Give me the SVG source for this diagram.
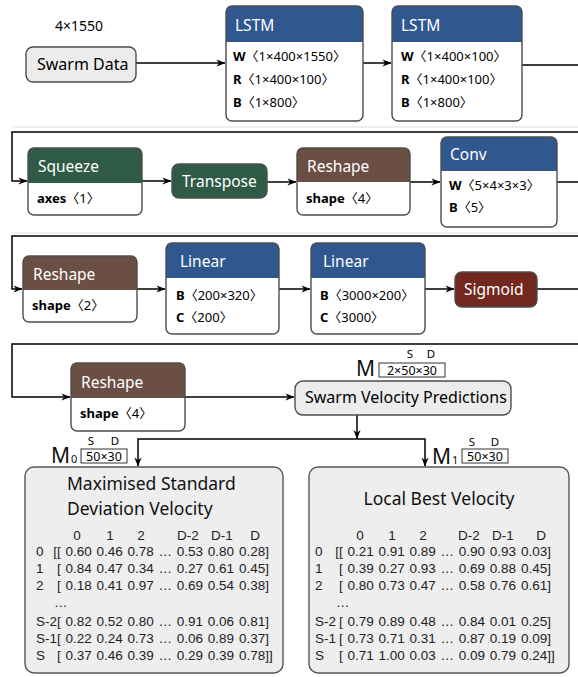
<svg xmlns="http://www.w3.org/2000/svg" width="578" height="677" viewBox="0 0 578 677">
<defs>
<style>
text{font-family:"Noto Sans","Noto Sans CJK SC",sans-serif;fill:#000}
.t{font-size:15.5px;fill:#fff}
.b{font-size:13px}
.b tspan.k{font-weight:bold}
.body{fill:#fff;stroke:none}
.out{fill:none;stroke:#4d4d4d;stroke-width:1.4}
.layer{fill:#30588f}
.xform{fill:#2f5a46}
.shape{fill:#6b4e44}
.act{fill:#72281f}
.io{fill:#ececec;stroke:#4d4d4d;stroke-width:1.4}
.big{fill:#eeeeee;stroke:#555;stroke-width:1.4}
.c{fill:none;stroke:#000;stroke-width:1.5}
.sep{stroke:#dedede;stroke-width:1}
text.m{font-family:"Liberation Sans",Arial,sans-serif;font-size:13.5px;fill:#222;word-spacing:1px}
.h{font-size:17.5px;fill:#111}
.dim{font-size:12.5px}
.sd{font-size:11.5px}
.M{font-size:21px;fill:#111}
.sub{font-size:11px;fill:#111}
.bx{fill:none;stroke:#333;stroke-width:1}
</style>
<marker id="arr" viewBox="0 0 10 10" refX="9.5" refY="5" markerWidth="9" markerHeight="9" markerUnits="userSpaceOnUse" orient="auto">
<path d="M0,1 L10,5 L0,9 L3,5 Z" fill="#000"/>
</marker>
</defs>

<line class="sep" x1="12" y1="127" x2="578" y2="127"/>
<line class="sep" x1="12" y1="233" x2="578" y2="233"/>

<g id="connectors">
<path class="c" d="M136,63 H225" marker-end="url(#arr)"/>
<path class="c" d="M363,63 H391" marker-end="url(#arr)"/>
<path class="c" d="M521,65 H578 M578,132 H12 V181 H27" marker-end="url(#arr)"/>
<path class="c" d="M142,181 H171" marker-end="url(#arr)"/>
<path class="c" d="M267,182 H296" marker-end="url(#arr)"/>
<path class="c" d="M410,182 H440" marker-end="url(#arr)"/>
<path class="c" d="M557,182 H578 M578,236 H12 V289 H22" marker-end="url(#arr)"/>
<path class="c" d="M137,289 H165" marker-end="url(#arr)"/>
<path class="c" d="M279,289 H310" marker-end="url(#arr)"/>
<path class="c" d="M425,289 H454" marker-end="url(#arr)"/>
<path class="c" d="M537,289 H578 M578,344 H12 V397 H70" marker-end="url(#arr)"/>
<path class="c" d="M185,397 H294" marker-end="url(#arr)"/>
<path class="c" d="M357,415 V438.5" marker-end="url(#arr)"/>
<path class="c" d="M357,439 H138 V466" marker-end="url(#arr)"/>
<path class="c" d="M357,439 H425 V466" marker-end="url(#arr)"/>
</g>

<g id="swarm-data">
<text x="55" y="31" style="font-size:14px">4×1550</text>
<rect class="io" x="26" y="47" width="110" height="35" rx="7"/>
<text x="37" y="70" style="font-size:16px">Swarm Data</text>
</g>

<g id="lstm1">
<rect class="body" x="226" y="6" width="137" height="115" rx="6"/>
<path class="layer" d="M226,42 V12 Q226,6 232,6 H357 Q363,6 363,12 V42 Z"/>
<rect class="out" x="226" y="6" width="137" height="115" rx="6"/>
<text class="t" x="235" y="31">LSTM</text>
<text class="b" x="233" y="61"><tspan class="k">W</tspan>〈1×400×1550〉</text>
<text class="b" x="233" y="84"><tspan class="k">R</tspan>〈1×400×100〉</text>
<text class="b" x="233" y="107"><tspan class="k">B</tspan>〈1×800〉</text>
</g>

<g id="lstm2">
<rect class="body" x="392" y="6" width="130" height="115" rx="6"/>
<path class="layer" d="M392,42 V12 Q392,6 398,6 H516 Q522,6 522,12 V42 Z"/>
<rect class="out" x="392" y="6" width="130" height="115" rx="6"/>
<text class="t" x="401" y="31">LSTM</text>
<text class="b" x="401" y="61"><tspan class="k">W</tspan>〈1×400×100〉</text>
<text class="b" x="401" y="84"><tspan class="k">R</tspan>〈1×400×100〉</text>
<text class="b" x="401" y="107"><tspan class="k">B</tspan>〈1×800〉</text>
</g>

<g id="squeeze">
<rect class="body" x="28" y="148" width="114" height="67" rx="6"/>
<path class="xform" d="M28,183 V154 Q28,148 34,148 H136 Q142,148 142,154 V183 Z"/>
<rect class="out" x="28" y="148" width="114" height="67" rx="6"/>
<text class="t" x="38" y="172">Squeeze</text>
<text class="b" x="37" y="203"><tspan class="k">axes</tspan>〈1〉</text>
</g>

<g id="transpose">
<rect class="xform" x="172" y="164" width="95" height="34" rx="7" stroke="#4d4d4d" stroke-width="1.4"/>
<text class="t" x="182" y="187">Transpose</text>
</g>

<g id="reshape1">
<rect class="body" x="297" y="148" width="113" height="67" rx="6"/>
<path class="shape" d="M297,182 V154 Q297,148 303,148 H404 Q410,148 410,154 V182 Z"/>
<rect class="out" x="297" y="148" width="113" height="67" rx="6"/>
<text class="t" x="307" y="172">Reshape</text>
<text class="b" x="306" y="203"><tspan class="k">shape</tspan>〈4〉</text>
</g>

<g id="conv">
<rect class="body" x="441" y="137" width="116" height="90" rx="6"/>
<path class="layer" d="M441,171 V143 Q441,137 447,137 H551 Q557,137 557,143 V171 Z"/>
<rect class="out" x="441" y="137" width="116" height="90" rx="6"/>
<text class="t" x="450" y="160">Conv</text>
<text class="b" x="449" y="190"><tspan class="k">W</tspan>〈5×4×3×3〉</text>
<text class="b" x="449" y="212"><tspan class="k">B</tspan>〈5〉</text>
</g>

<g id="reshape2">
<rect class="body" x="23" y="256" width="114" height="66" rx="6"/>
<path class="shape" d="M23,290 V262 Q23,256 29,256 H131 Q137,256 137,262 V290 Z"/>
<rect class="out" x="23" y="256" width="114" height="66" rx="6"/>
<text class="t" x="33" y="280">Reshape</text>
<text class="b" x="32" y="310"><tspan class="k">shape</tspan>〈2〉</text>
</g>

<g id="linear1">
<rect class="body" x="166" y="243" width="113" height="91" rx="6"/>
<path class="layer" d="M166,278 V249 Q166,243 172,243 H273 Q279,243 279,249 V278 Z"/>
<rect class="out" x="166" y="243" width="113" height="91" rx="6"/>
<text class="t" x="180" y="267">Linear</text>
<text class="b" x="176" y="300"><tspan class="k">B</tspan>〈200×320〉</text>
<text class="b" x="176" y="322"><tspan class="k">C</tspan>〈200〉</text>
</g>

<g id="linear2">
<rect class="body" x="311" y="243" width="114" height="91" rx="6"/>
<path class="layer" d="M311,278 V249 Q311,243 317,243 H419 Q425,243 425,249 V278 Z"/>
<rect class="out" x="311" y="243" width="114" height="91" rx="6"/>
<text class="t" x="323" y="267">Linear</text>
<text class="b" x="320" y="300"><tspan class="k">B</tspan>〈3000×200〉</text>
<text class="b" x="320" y="322"><tspan class="k">C</tspan>〈3000〉</text>
</g>

<g id="sigmoid">
<rect class="act" x="455" y="272" width="82" height="35" rx="7" stroke="#4d4d4d" stroke-width="1.4"/>
<text class="t" x="464" y="295">Sigmoid</text>
</g>

<g id="reshape3">
<rect class="body" x="71" y="363" width="114" height="68" rx="6"/>
<path class="shape" d="M71,398 V369 Q71,363 77,363 H179 Q185,363 185,369 V398 Z"/>
<rect class="out" x="71" y="363" width="114" height="68" rx="6"/>
<text class="t" x="81" y="388">Reshape</text>
<text class="b" x="80" y="418"><tspan class="k">shape</tspan>〈4〉</text>
</g>

<g id="swarm-velocity-predictions">
<text class="sd" x="410" y="358" text-anchor="middle">S</text>
<text class="sd" x="431" y="358" text-anchor="middle">D</text>
<text class="M" x="356" y="376">M</text>
<rect class="bx" x="379" y="363" width="66" height="14"/>
<text class="dim" x="412" y="375" text-anchor="middle">2×50×30</text>
<rect class="io" x="295" y="381" width="216" height="34" rx="8"/>
<text x="305" y="403" style="font-size:16px">Swarm Velocity Predictions</text>
</g>

<g id="max-std-velocity">
<text class="sd" x="91" y="445" text-anchor="middle">S</text>
<text class="sd" x="115" y="445" text-anchor="middle">D</text>
<text class="M" x="51" y="463">M</text>
<text class="sub" x="71" y="463">0</text>
<rect class="bx" x="81" y="449" width="46" height="14"/>
<text class="dim" x="104" y="461" text-anchor="middle">50×30</text>
<rect class="big" x="25" y="467" width="258" height="206" rx="9"/>
<text class="h" x="67" y="490">Maximised Standard</text>
<text class="h" x="67" y="515">Deviation Velocity</text>
<text class="m" x="77" y="540" text-anchor="middle">0</text>
<text class="m" x="110" y="540" text-anchor="middle">1</text>
<text class="m" x="141" y="540" text-anchor="middle">2</text>
<text class="m" x="188" y="540" text-anchor="middle">D-2</text>
<text class="m" x="222" y="540" text-anchor="middle">D-1</text>
<text class="m" x="255" y="540" text-anchor="middle">D</text>
<text class="m" y="556"><tspan x="36">0</tspan><tspan x="53.25">[[ 0.60 0.46 0.78 … 0.53 0.80 0.28]</tspan></text>
<text class="m" y="573"><tspan x="36">1</tspan><tspan x="57">[ 0.84 0.47 0.34 … 0.27 0.61 0.45]</tspan></text>
<text class="m" y="590"><tspan x="36">2</tspan><tspan x="57">[ 0.18 0.41 0.97 … 0.69 0.54 0.38]</tspan></text>
<text class="m" x="54" y="607">…</text>
<text class="m" y="626"><tspan x="36">S-2</tspan><tspan x="57">[ 0.82 0.52 0.80 … 0.91 0.06 0.81]</tspan></text>
<text class="m" y="643"><tspan x="36">S-1</tspan><tspan x="57">[ 0.22 0.24 0.73 … 0.06 0.89 0.37]</tspan></text>
<text class="m" y="660"><tspan x="36">S</tspan><tspan x="57">[ 0.37 0.46 0.39 … 0.29 0.39 0.78]]</tspan></text>
</g>

<g id="local-best-velocity">
<text class="sd" x="472" y="446" text-anchor="middle">S</text>
<text class="sd" x="495" y="446" text-anchor="middle">D</text>
<text class="M" x="432" y="464">M</text>
<text class="sub" x="452" y="464">1</text>
<rect class="bx" x="462" y="449" width="46" height="14"/>
<text class="dim" x="485" y="461" text-anchor="middle">50×30</text>
<rect class="big" x="309" y="467" width="260" height="206" rx="9"/>
<text class="h" x="439" y="505" text-anchor="middle">Local Best Velocity</text>
<text class="m" x="360" y="540" text-anchor="middle">0</text>
<text class="m" x="392" y="540" text-anchor="middle">1</text>
<text class="m" x="423" y="540" text-anchor="middle">2</text>
<text class="m" x="469" y="540" text-anchor="middle">D-2</text>
<text class="m" x="503" y="540" text-anchor="middle">D-1</text>
<text class="m" x="541" y="540" text-anchor="middle">D</text>
<text class="m" y="556"><tspan x="315">0</tspan><tspan x="335.25">[[ 0.21 0.91 0.89 … 0.90 0.93 0.03]</tspan></text>
<text class="m" y="573"><tspan x="315">1</tspan><tspan x="339">[ 0.39 0.27 0.93 … 0.69 0.88 0.45]</tspan></text>
<text class="m" y="590"><tspan x="315">2</tspan><tspan x="339">[ 0.80 0.73 0.47 … 0.58 0.76 0.61]</tspan></text>
<text class="m" x="336" y="607">…</text>
<text class="m" y="626"><tspan x="315">S-2</tspan><tspan x="339">[ 0.79 0.89 0.48 … 0.84 0.01 0.25]</tspan></text>
<text class="m" y="643"><tspan x="315">S-1</tspan><tspan x="339">[ 0.73 0.71 0.31 … 0.87 0.19 0.09]</tspan></text>
<text class="m" y="660"><tspan x="315">S</tspan><tspan x="339">[ 0.71 1.00 0.03 … 0.09 0.79 0.24]]</tspan></text>
</g>
</svg>
